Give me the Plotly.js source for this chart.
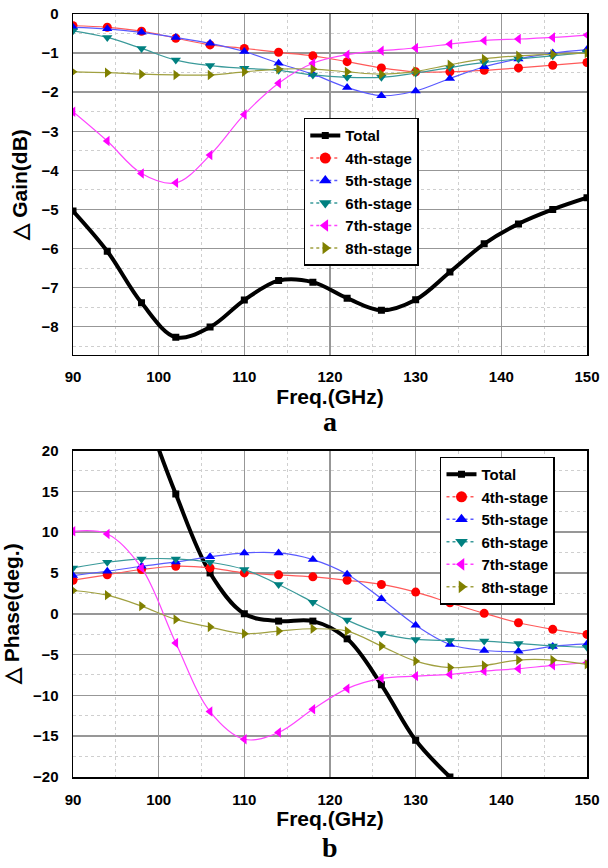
<!DOCTYPE html>
<html>
<head>
<meta charset="utf-8">
<script src="https://cdn.plot.ly/plotly-3.0.1.min.js"></script>
<style>
  html, body { margin: 0; padding: 0; background: #ffffff; }
  #chart { width: 608px; height: 868px; }
</style>
</head>
<body>
<div id="chart"></div>
<script>
// ---------- data ----------
const freq = [90, 94, 98, 102, 106, 110, 114, 118, 122, 126, 130, 134, 138, 142, 146, 150];
const seriesNames = ["Total", "4th-stage", "5th-stage", "6th-stage", "7th-stage", "8th-stage"];

// (a) delta gain, dB
const gainTotal = [-5.04, -6.07, -7.39, -8.27, -8.01, -7.32, -6.82, -6.86, -7.27, -7.58, -7.31, -6.60, -5.88, -5.37, -5.00, -4.70];
const gain4 = [-0.30, -0.34, -0.44, -0.62, -0.79, -0.88, -0.98, -1.07, -1.22, -1.38, -1.48, -1.48, -1.44, -1.38, -1.31, -1.24];
const gain5 = [-0.34, -0.38, -0.47, -0.60, -0.75, -0.96, -1.26, -1.54, -1.88, -2.09, -1.97, -1.65, -1.35, -1.15, -1.00, -0.91];
const gain6 = [-0.43, -0.60, -0.88, -1.18, -1.32, -1.39, -1.44, -1.56, -1.62, -1.62, -1.51, -1.37, -1.24, -1.15, -1.07, -0.98];
const gain7 = [-2.50, -3.25, -4.08, -4.32, -3.61, -2.57, -1.77, -1.26, -1.04, -0.94, -0.87, -0.77, -0.68, -0.64, -0.60, -0.54];
const gain8 = [-1.48, -1.50, -1.54, -1.56, -1.56, -1.48, -1.41, -1.41, -1.48, -1.54, -1.47, -1.30, -1.15, -1.07, -1.03, -1.00];

// (b) delta phase, deg
const freqTotalPhase = [98, 102, 106, 110, 114, 118, 122, 126, 130, 134];
const phaseTotal = [26.0, 14.66, 5.0, 0.0, -0.9, -0.9, -3.07, -8.7, -15.5, -20.0];
const phase4 = [4.11, 4.77, 5.42, 5.82, 5.62, 5.00, 4.77, 4.52, 4.10, 3.59, 2.65, 1.34, 0.05, -1.10, -1.91, -2.53];
const phase5 = [4.68, 5.21, 5.82, 6.35, 6.97, 7.45, 7.45, 6.64, 4.85, 1.84, -1.40, -3.76, -4.50, -4.60, -4.00, -3.70];
const phase6 = [5.62, 6.31, 6.72, 6.72, 6.31, 5.42, 3.58, 1.42, -0.78, -2.41, -3.15, -3.27, -3.35, -3.64, -3.95, -4.10];
const phase7 = [10.10, 9.78, 5.62, -3.58, -11.98, -15.37, -14.55, -11.70, -9.17, -7.92, -7.64, -7.43, -7.03, -6.73, -6.32, -6.00];
const phase8 = [2.85, 2.28, 0.94, -0.69, -1.63, -2.44, -2.12, -1.84, -2.13, -3.96, -5.80, -6.60, -6.33, -5.67, -5.67, -6.20];

const xTickVals = [90, 100, 110, 120, 130, 140, 150];

// ---------- styles ----------
const FONT = "Arial, 'Liberation Sans', Helvetica, sans-serif";
const styles = [
  { line: "#000000", marker: "#000000", symbol: "square", size: 7, width: 4, dash: "solid" },
  { line: "#ff5a5a", marker: "#ff0000", symbol: "circle", size: 9, width: 1.2, dash: "dot" },
  { line: "#5a5aff", marker: "#0000ff", symbol: "triangle-up", size: 9, width: 1.2, dash: "dot" },
  { line: "#3a9a9a", marker: "#008080", symbol: "triangle-down", size: 9, width: 1.2, dash: "dot" },
  { line: "#ff44ff", marker: "#ff00ff", symbol: "triangle-left", size: 9, width: 1.2, dash: "dot" },
  { line: "#a0a040", marker: "#808000", symbol: "triangle-right", size: 9, width: 1.2, dash: "dot" }
];

function plotTrace(x, y, i, xa, ya) {
  const s = styles[i];
  return {
    x: x, y: y, xaxis: xa, yaxis: ya, type: "scatter", mode: "lines+markers",
    name: seriesNames[i], showlegend: false,
    line: { color: s.line, width: s.width, shape: "spline", smoothing: 1 },
    marker: { symbol: s.symbol, size: s.size, color: s.marker }
  };
}
function legendTrace(i, xa, ya, leg) {
  const s = styles[i];
  return {
    x: [null], y: [null], xaxis: xa, yaxis: ya, type: "scatter", mode: "lines+markers",
    name: seriesNames[i], legend: leg, showlegend: true,
    line: { color: s.line, width: i === 0 ? 4 : 1.5, dash: s.dash },
    marker: { symbol: s.symbol, size: i === 0 ? 7 : 11, color: s.marker }
  };
}

const gainSets = [gainTotal, gain4, gain5, gain6, gain7, gain8];
const phaseSets = [phaseTotal, phase4, phase5, phase6, phase7, phase8];

const traces = [];
gainSets.forEach((g, i) => traces.push(plotTrace(freq, g, i, "x", "y")));
phaseSets.forEach((p, i) => traces.push(plotTrace(i === 0 ? freqTotalPhase : freq, p, i, "x2", "y2")));
for (let i = 0; i < 6; i++) traces.push(legendTrace(i, "x", "y", "legend"));
for (let i = 0; i < 6; i++) traces.push(legendTrace(i, "x2", "y2", "legend2"));

const tickFont = { family: FONT, size: 15, color: "#000", weight: 700 };
const titleFont = { family: FONT, size: 21, color: "#000", weight: 700 };

function xAxis(anchor) {
  return {
    anchor: anchor, range: [90, 150], tickvals: xTickVals, ticks: "",
    ticklabelstandoff: 8,
    showgrid: true, gridcolor: "#979797", gridwidth: 1.5,
    minor: { dtick: 5, tick0: 90, showgrid: true, gridcolor: "#cfcfcf", griddash: "dot", gridwidth: 1 },
    showline: true, linecolor: "#000", linewidth: 1.5, mirror: true, zeroline: false,
    tickfont: tickFont,
    title: { text: "Freq.(GHz)", font: titleFont, standoff: 5 }
  };
}
function yAxis(anchor, domain, range, dtick, minorDtick, title) {
  return {
    anchor: anchor, domain: domain, range: range, dtick: dtick, tick0: 0, ticks: "",
    ticklabelstandoff: 10,
    showgrid: true, gridcolor: "#979797", gridwidth: 1.5,
    minor: { dtick: minorDtick, tick0: 0, showgrid: true, gridcolor: "#cfcfcf", griddash: "dot", gridwidth: 1 },
    showline: true, linecolor: "#000", linewidth: 1.5, mirror: true, zeroline: false,
    tickfont: tickFont,
    title: { text: title, font: titleFont, standoff: 8 }
  };
}

const legendBase = {
  bgcolor: "#ffffff", bordercolor: "#000000", borderwidth: 1.5,
  font: { family: FONT, size: 15, color: "#000", weight: 700 },
  xanchor: "left", yanchor: "top", tracegroupgap: 0, itemwidth: 30
};

const layout = {
  width: 608, height: 868,
  margin: { l: 73, r: 21, t: 14, b: 91 },
  paper_bgcolor: "#ffffff", plot_bgcolor: "#ffffff",
  showlegend: true,
  xaxis: xAxis("y"),
  yaxis: yAxis("x", [0.5533, 1], [-8.72, 0], 1, 0.5, "\u25B3 Gain(dB)"),
  xaxis2: xAxis("y2"),
  yaxis2: yAxis("x2", [0, 0.4279], [-20, 20], 5, 2.5, "\u25B3 Phase(deg.)"),
  legend: Object.assign({}, legendBase, { x: 0.449, y: 0.864 }),
  legend2: Object.assign({}, legendBase, { x: 0.714, y: 0.42 }),
  annotations: [
    { text: "a", xref: "paper", yref: "paper", x: 0.5, y: 0.4655, xanchor: "center", yanchor: "middle",
      showarrow: false, font: { family: "'Liberation Serif', 'Times New Roman', serif", size: 28, color: "#000", weight: 700 } },
    { text: "b", xref: "paper", yref: "paper", x: 0.5, y: -0.0925, xanchor: "center", yanchor: "middle",
      showarrow: false, font: { family: "'Liberation Serif', 'Times New Roman', serif", size: 28, color: "#000", weight: 700 } }
  ]
};

Plotly.newPlot("chart", traces, layout, { displayModeBar: false, staticPlot: true });
</script>
</body>
</html>
